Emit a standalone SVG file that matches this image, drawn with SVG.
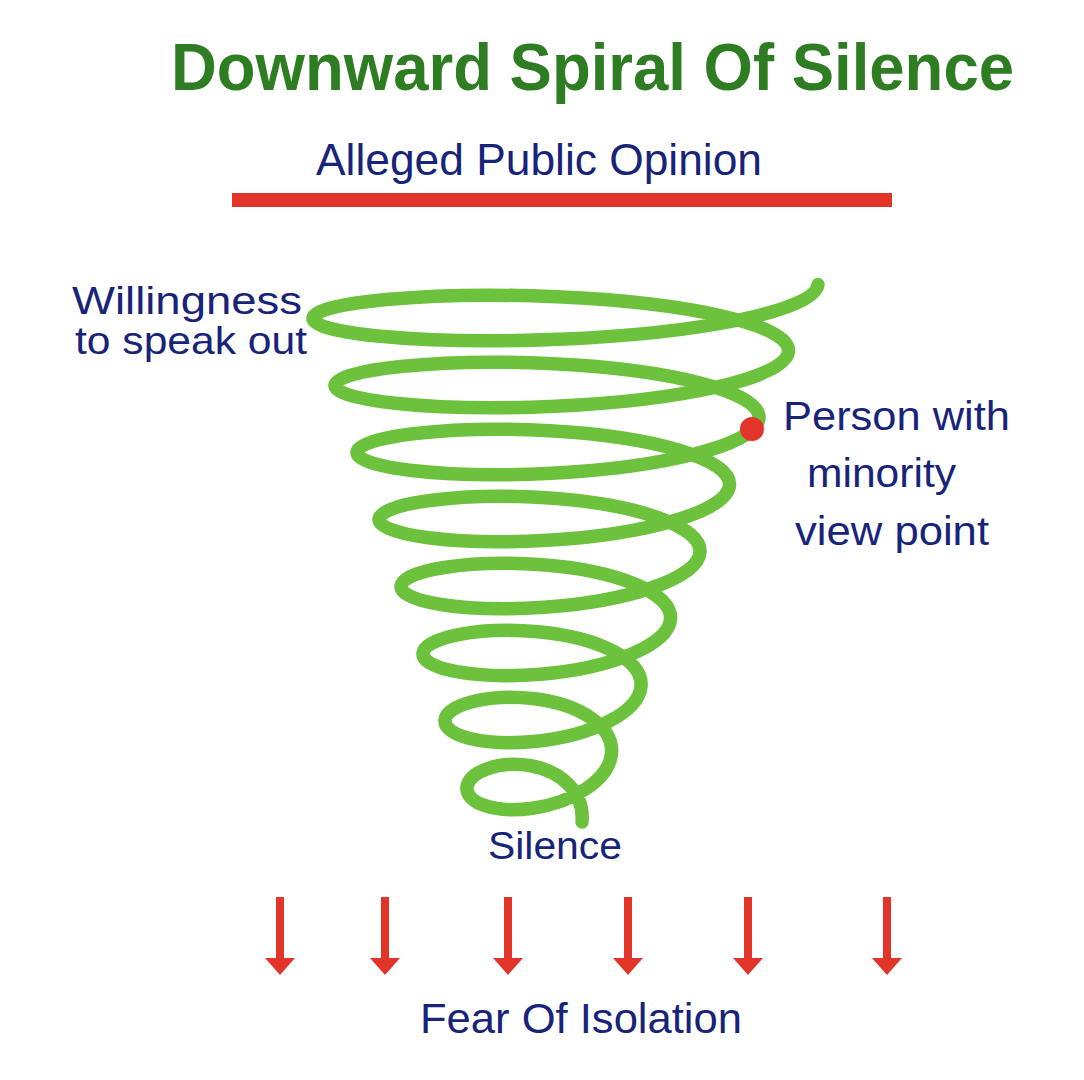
<svg xmlns="http://www.w3.org/2000/svg" width="1084" height="1080" viewBox="0 0 1084 1080">
  <style>
    .navy { fill: #18247a; font-family: "Liberation Sans", Arial, sans-serif; }
    .title { fill: #2f7d23; font-family: "Liberation Sans", Arial, sans-serif; font-weight: bold; }
    .spiral { fill: none; stroke: #6cc23c; stroke-width: 13.5; stroke-linecap: round; stroke-linejoin: round; }
    .arrow { stroke: #e3342a; stroke-width: 8; fill: none; marker-end: url(#head); }
  </style>
  <defs>
    <marker id="head" viewBox="0 -15 17 30" refX="0" refY="0" markerWidth="17" markerHeight="30" markerUnits="userSpaceOnUse" orient="auto">
      <path d="M0,-15 L17,0 L0,15 Z" fill="#e3342a"/>
    </marker>
  </defs>
  <rect width="1084" height="1080" fill="#ffffff"/>

  <g id="title">
    <text class="title" x="171" y="90" font-size="66" textLength="843" lengthAdjust="spacingAndGlyphs">Downward Spiral Of Silence</text>
  </g>

  <g id="public-opinion">
    <text class="navy" x="316" y="175" font-size="45" textLength="446" lengthAdjust="spacingAndGlyphs">Alleged Public Opinion</text>
    <rect x="232" y="193" width="660" height="14" fill="#e3342a"/>
  </g>

  <g id="spiral">
    <path class="spiral" d="M818,284.5
      C815.54,311.07 698.31,333.67 559.06,339.25
      C419.81,344.83 311.17,333.41 313,318
      C314.83,302.59 425.67,291.17 557.19,296.75
      C688.71,302.33 790.96,324.93 788.5,351.5
      C786.04,378.07 680.34,400.67 555.31,406.25
      C430.28,411.83 333.17,400.41 335,385
      C336.83,369.59 436.14,358.17 553.44,363.75
      C670.74,369.33 761.46,391.93 759,418.5
      C756.54,445.07 662.36,467.67 551.56,473.25
      C440.76,478.83 355.17,467.41 357,452
      C358.83,436.59 446.62,425.17 549.69,430.75
      C652.76,436.33 731.96,458.93 729.5,485.5
      C727.04,512.07 644.39,534.67 547.81,540.25
      C451.23,545.83 377.17,534.41 379,519
      C380.83,503.59 457.09,492.17 545.94,497.75
      C634.79,503.33 702.46,525.93 700,552.5
      C697.54,579.07 626.42,601.67 544.06,607.25
      C461.70,612.83 399.17,601.41 401,586
      C402.83,570.59 467.56,559.17 542.19,564.75
      C616.82,570.33 672.96,592.93 670.5,619.5
      C668.04,646.07 608.45,668.67 540.31,674.25
      C472.17,679.83 421.17,668.41 423,653
      C424.83,637.59 478.03,626.17 538.44,631.75
      C598.85,637.33 643.46,659.93 641,686.5
      C638.54,713.07 590.48,735.67 536.56,741.25
      C482.64,746.83 443.17,735.41 445,720
      C446.83,704.59 488.50,693.17 534.69,698.75
      C580.88,704.33 613.96,726.93 611.5,753.5
      C609.04,780.07 572.51,802.67 532.81,808.25
      C493.11,813.83 465.17,802.41 467,787
      C468.83,771.59 498.98,760.17 530.94,765.75
      C562.90,771.33 584.46,793.93 582,822"/>
  </g>

  <g id="person">
    <circle cx="752" cy="429" r="12" fill="#e3342a"/>
    <text class="navy" x="783" y="430" font-size="40" textLength="227" lengthAdjust="spacingAndGlyphs">Person with</text>
    <text class="navy" x="807" y="487" font-size="40" textLength="149" lengthAdjust="spacingAndGlyphs">minority</text>
    <text class="navy" x="795" y="545" font-size="40" textLength="194" lengthAdjust="spacingAndGlyphs">view point</text>
  </g>

  <g id="willingness">
    <text class="navy" x="72" y="314" font-size="39" textLength="230" lengthAdjust="spacingAndGlyphs">Willingness</text>
    <text class="navy" x="75" y="354" font-size="39" textLength="232" lengthAdjust="spacingAndGlyphs">to speak out</text>
  </g>

  <g id="silence">
    <text class="navy" x="488" y="859" font-size="39" textLength="134" lengthAdjust="spacingAndGlyphs">Silence</text>
  </g>

  <g id="connectors">
    <line class="arrow" x1="280" y1="897" x2="280" y2="958"/>
    <line class="arrow" x1="385" y1="897" x2="385" y2="958"/>
    <line class="arrow" x1="508" y1="897" x2="508" y2="958"/>
    <line class="arrow" x1="628" y1="897" x2="628" y2="958"/>
    <line class="arrow" x1="748" y1="897" x2="748" y2="958"/>
    <line class="arrow" x1="887" y1="897" x2="887" y2="958"/>
  </g>

  <g id="fear">
    <text class="navy" x="420" y="1033" font-size="43" textLength="322" lengthAdjust="spacingAndGlyphs">Fear Of Isolation</text>
  </g>
</svg>
